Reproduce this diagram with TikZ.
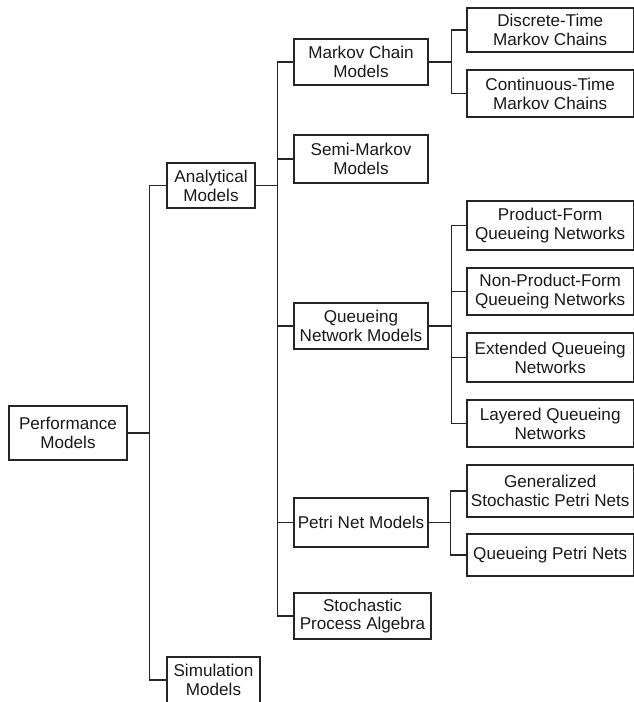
\documentclass[tikz,border=0pt]{standalone}
\usepackage{fontspec}
\setmainfont{Liberation Sans}
\begin{document}
\begin{tikzpicture}[x=1pt,y=-1pt,
  box/.style={draw=black!85, line width=1.1pt, rectangle, inner sep=0pt,
    align=center, text=black!90, font=\fontsize{17.1}{18.8}\selectfont},
  link/.style={draw=black!85, line width=1.1pt}]
\useasboundingbox (0,0) rectangle (634,702);
\clip (0,0) rectangle (634,702);

% root and first level
\node[box, minimum width=118, minimum height=54] (perf) at (68,433) {Performance\\Models};
\node[box, minimum width=88, minimum height=45] (anal) at (211,185.5) {Analytical\\Models};
\node[box, minimum width=93, minimum height=46] (sim) at (213.5,680) {Simulation\\Models};

% analytical model classes
\node[box, minimum width=134, minimum height=46] (mc) at (361,62) {Markov Chain\\Models};
\node[box, minimum width=134, minimum height=48] (semi) at (361,159) {Semi-Markov\\Models};
\node[box, minimum width=134, minimum height=46] (qn) at (361,326) {Queueing\\Network Models};
\node[box, minimum width=134, minimum height=49] (petri) at (361,522.5) {Petri Net Models};
\node[box, minimum width=137, minimum height=46] (spa) at (362.5,616) {Stochastic\\Process Algebra};

% leaves
\node[box, minimum width=166.4, minimum height=44] (dtmc) at (550.2,30) {Discrete-Time\\Markov Chains};
\node[box, minimum width=166.4, minimum height=47] (ctmc) at (550.2,93.5) {Continuous-Time\\Markov Chains};
\node[box, minimum width=166.4, minimum height=49] (pf) at (550.2,225.5) {Product-Form\\Queueing Networks};
\node[box, minimum width=166.4, minimum height=47] (npf) at (550.2,291.5) {Non-Product-Form\\Queueing Networks};
\node[box, minimum width=166.4, minimum height=49] (ext) at (550.2,357.5) {Extended Queueing\\Networks};
\node[box, minimum width=166.4, minimum height=47] (lay) at (550.2,423.5) {Layered Queueing\\Networks};
\node[box, minimum width=166.4, minimum height=52] (gspn) at (550.2,491) {Generalized\\Stochastic Petri Nets};
\node[box, minimum width=166.4, minimum height=42] (qpn) at (550.2,555) {Queueing Petri Nets};

% tree connectors
\foreach \c in {anal,sim} \draw[link] (perf.east) -- ++(22,0) |- (\c.west);
\foreach \c in {mc,semi,qn,petri,spa} \draw[link] (anal.east) -- ++(22,0) |- (\c.west);
\foreach \c in {dtmc,ctmc} \draw[link] (mc.east) -- ++(23,0) |- (\c.west);
\foreach \c in {pf,npf,ext,lay} \draw[link] (qn.east) -- ++(23,0) |- (\c.west);
\foreach \c in {gspn,qpn} \draw[link] (petri.east) -- ++(22,0) |- (\c.west);
\end{tikzpicture}
\end{document}
